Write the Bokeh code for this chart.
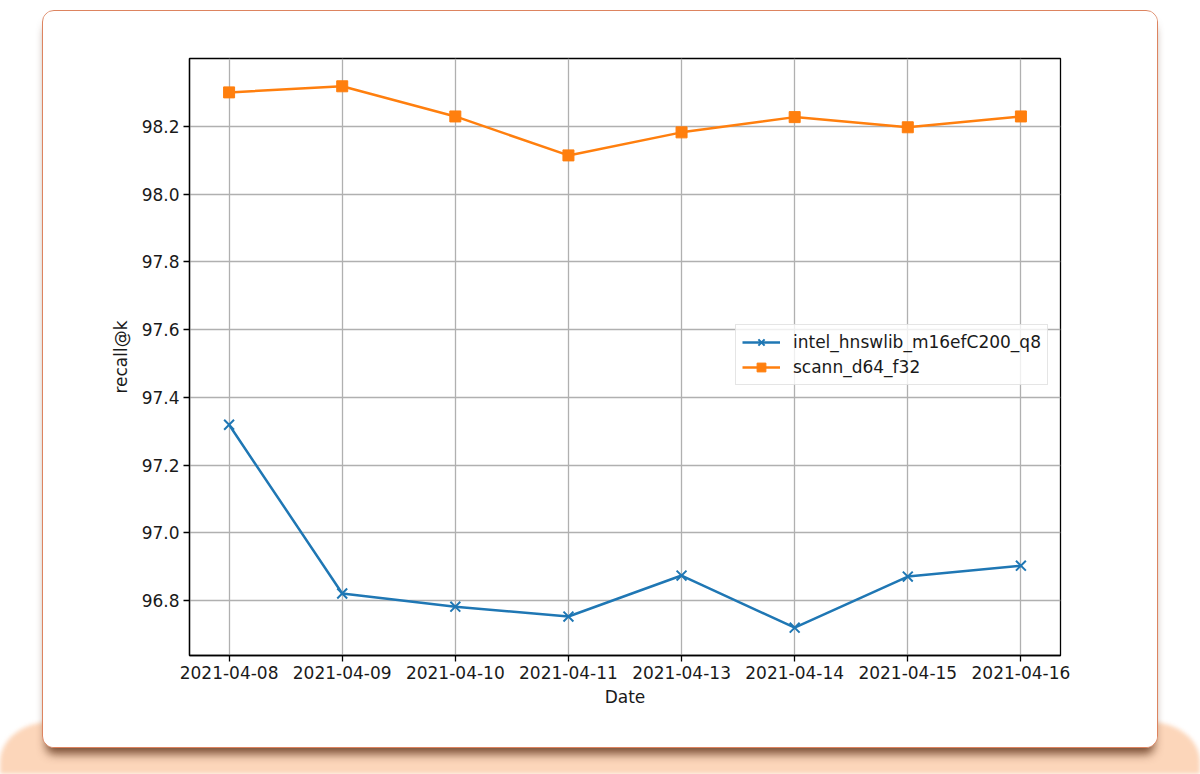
from bokeh.plotting import figure
from bokeh.layouts import column
from bokeh.models import FactorRange, Range1d, FixedTicker, NumeralTickFormatter, Legend, LegendItem, InlineStyleSheet
from bokeh.embed import file_html
from bokeh.resources import INLINE

dates = ["2021-04-08", "2021-04-09", "2021-04-10", "2021-04-11",
         "2021-04-13", "2021-04-14", "2021-04-15", "2021-04-16"]
intel_hnswlib = [97.319, 96.821, 96.782, 96.753, 96.874, 96.720, 96.871, 96.903]
scann = [98.300, 98.318, 98.229, 98.114, 98.182, 98.227, 98.197, 98.229]
y_ticks = [96.8, 97.0, 97.2, 97.4, 97.6, 97.8, 98.0, 98.2]
series_names = ["intel_hnswlib_m16efC200_q8", "scann_d64_f32"]

BLUE = "#1f77b4"
ORANGE = "#ff7f0e"
FONT = "DejaVu Sans"
FS = "17px"

p = figure(width=1116, height=738, output_backend="svg", toolbar_location=None,
           x_range=FactorRange(factors=dates, range_padding=-0.15, range_padding_units="absolute"),
           y_range=Range1d(96.638, 98.40),
           min_border_left=146, min_border_right=99, min_border_top=47, min_border_bottom=94)
p.margin = (10, 0, 0, 42)
p.styles = {"border": "1.5px solid #dd8460", "border-radius": "12px",
            "box-shadow": "0 10px 10px -4px rgba(90,45,20,0.8)", "overflow": "hidden",
            "background": "white", "position": "relative", "z-index": "2"}

p.background_fill_color = "white"
p.border_fill_color = "white"
p.outline_line_color = "black"
p.outline_line_width = 1.3

for g in (p.xgrid, p.ygrid):
    g.grid_line_color = "#b0b0b0"
    g.grid_line_width = 1.3

for ax in (p.xaxis, p.yaxis):
    ax.axis_line_color = "black"
    ax.axis_line_width = 1.3
    ax.major_tick_in = 0
    ax.major_tick_out = 6
    ax.major_tick_line_width = 1.3
    ax.minor_tick_line_color = None
    ax.major_label_text_font = FONT
    ax.major_label_text_font_size = FS
    ax.major_label_text_color = "#1a1a1a"
    ax.axis_label_text_font = FONT
    ax.axis_label_text_font_size = FS
    ax.axis_label_text_font_style = "normal"
    ax.axis_label_text_color = "#1a1a1a"
    ax.major_label_standoff = 4

p.xaxis.axis_label = "Date"
p.yaxis.axis_label = "recall@k"
p.xaxis.axis_label_standoff = 5
p.yaxis.axis_label_standoff = 8
p.yaxis.ticker = FixedTicker(ticks=y_ticks)
p.yaxis.formatter = NumeralTickFormatter(format="0.0")

l1 = p.line(dates, intel_hnswlib, line_color=BLUE, line_width=2.5)
m1 = p.scatter(dates, intel_hnswlib, marker="x", size=14, line_color=BLUE, line_width=2)
l2 = p.line(dates, scann, line_color=ORANGE, line_width=2.5)
m2 = p.scatter(dates, scann, marker="square", size=11, fill_color=ORANGE, line_color=ORANGE)

legend = Legend(items=[LegendItem(label=series_names[0], renderers=[l1, m1]),
                       LegendItem(label=series_names[1], renderers=[l2, m2])],
                location=(546, 270))
legend.label_text_font = FONT
legend.label_text_font_size = FS
legend.label_text_color = "#1a1a1a"
legend.glyph_width = 38
legend.glyph_height = 22
legend.label_height = 22
legend.label_standoff = 13
legend.padding = 6
legend.spacing = 3
legend.margin = 0
legend.border_line_color = "#cccccc"
legend.border_line_width = 1
legend.background_fill_alpha = 0.8
p.add_layout(legend)

css = InlineStyleSheet(css="""
:host { position: relative; background: white; }
:host::before {
  content: ""; position: absolute; left: 0; right: 0; top: 722px; bottom: 0;
  background: #fcd6ba; border-radius: 50px 50px 0 0 / 40px 40px 0 0;
  filter: blur(2px); z-index: 0;
}
""")
root = column(p, width=1200, height=774, stylesheets=[css])

open("out.html", "w").write(file_html(root, INLINE))
